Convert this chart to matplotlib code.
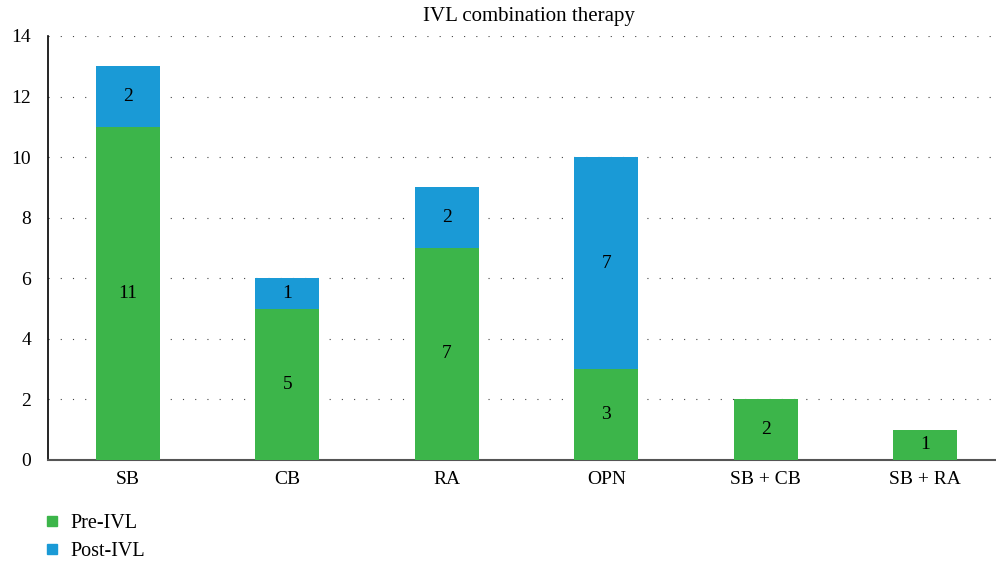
import matplotlib.pyplot as plt
import numpy as np
from matplotlib.lines import Line2D

plt.rcParams['font.family'] = ['Liberation Serif', 'DejaVu Serif']

categories = ['SB', 'CB', 'RA', 'OPN', 'SB + CB', 'SB + RA']
pre_ivl = [11, 5, 7, 3, 2, 1]
post_ivl = [2, 1, 2, 7, 0, 0]

green = '#3cb54a'
blue = '#1a9ad6'

fig = plt.figure(figsize=(9.96, 5.63), dpi=100)
ax = fig.add_axes([48 / 996, 1 - 460 / 563, 1 - 48 / 996, (460 - 36) / 563])

x = np.arange(len(categories))
w = 0.40
ax.bar(x, pre_ivl, w, color=green, zorder=3)
ax.bar(x, post_ivl, w, bottom=pre_ivl, color=blue, zorder=3)

for i in range(len(categories)):
    ax.text(x[i], pre_ivl[i] / 2, str(pre_ivl[i]), ha='center', va='center', fontsize=14, zorder=4)
    if post_ivl[i] > 0:
        ax.text(x[i], pre_ivl[i] + post_ivl[i] / 2, str(post_ivl[i]), ha='center', va='center',
                fontsize=14, zorder=4)

ax.set_xlim(-0.5, (996 - 48) / 159.5 - 0.5)
ax.set_ylim(0, 14)
ax.set_yticks(range(0, 15, 2))
ax.set_xticks(x)
ax.set_xticklabels(categories)
ax.tick_params(length=0, labelsize=14)
ax.tick_params(axis='x', pad=8)
ax.tick_params(axis='y', pad=12)
ax.yaxis.grid(True, linestyle=(0, (1, 10)), color='#444444', linewidth=0.8, zorder=0)

for s in ['top', 'right']:
    ax.spines[s].set_visible(False)
ax.spines['left'].set_color('black')
ax.spines['left'].set_linewidth(1.2)
ax.spines['bottom'].set_color('#555555')
ax.spines['bottom'].set_linewidth(1.5)

fig.text(529 / 996, 1 - 17 / 563, 'IVL combination therapy', ha='center', va='center', fontsize=15)

handles = [Line2D([], [], marker='s', linestyle='none', color=green, markersize=7),
           Line2D([], [], marker='s', linestyle='none', color=blue, markersize=7)]
fig.legend(handles, ['Pre-IVL', 'Post-IVL'], loc='upper left', bbox_to_anchor=(22 / 996, 1 - 496 / 563),
           frameon=False, fontsize=14.5, handletextpad=0.3, labelspacing=0.45, handlelength=1.2)

fig.savefig('out.png', dpi=100)
